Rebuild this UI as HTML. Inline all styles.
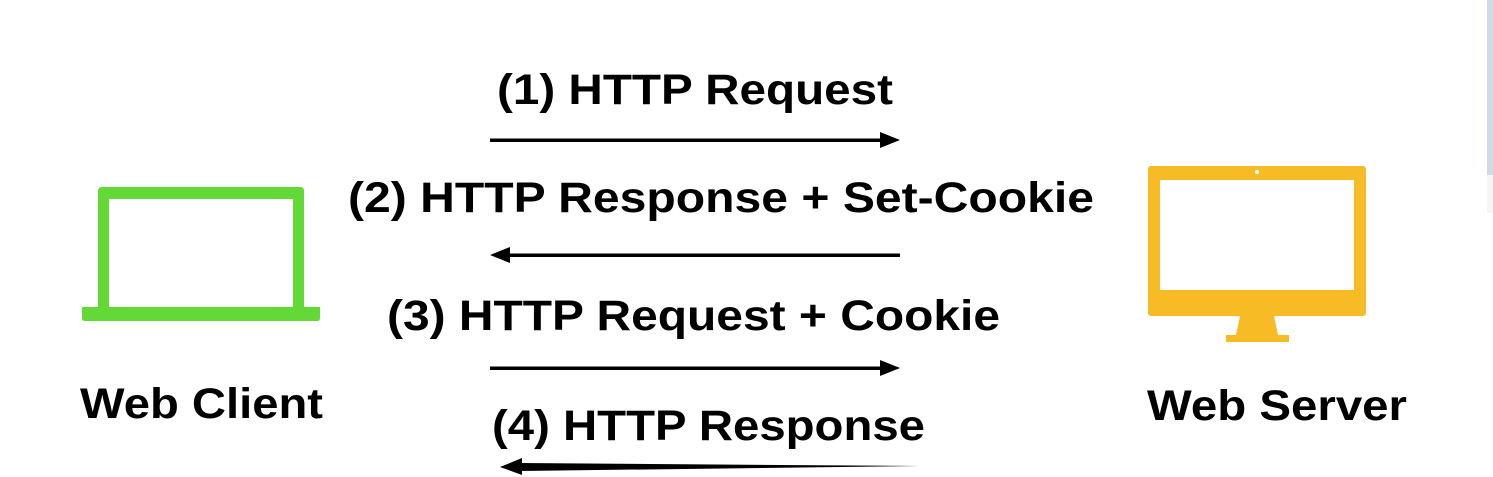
<!DOCTYPE html>
<html><head><meta charset="utf-8"><style>
html,body{margin:0;padding:0;background:#fff;}
svg{display:block;}
text{font-family:"Liberation Sans",Arial,sans-serif;font-weight:bold;fill:#000;}
</style></head><body>
<svg width="1493" height="477" viewBox="0 0 1493 477" xmlns="http://www.w3.org/2000/svg">
<rect x="1487" y="0" width="6" height="175" fill="#d0dbe8"/>
<rect x="1487" y="175" width="6" height="38" fill="#f6f6f7"/>
<!-- laptop -->
<path d="M102 187 H300 Q304 187 304 191 V307 H293 V199 H109 V307 H98 V191 Q98 187 102 187 Z" fill="#62d937"/>
<path d="M82 307 H320 V318 Q320 321 317 321 H85 Q82 321 82 318 Z" fill="#62d937"/>
<!-- monitor -->
<rect x="1148" y="166" width="218" height="150" rx="3" fill="#f7bc25"/>
<rect x="1160" y="180" width="194" height="110" fill="#fff"/>
<circle cx="1257" cy="172" r="2" fill="#fff"/>
<path d="M1240 316 H1274 L1278 335 H1236 Z" fill="#f7bc25"/>
<rect x="1226" y="335" width="63" height="7" fill="#f7bc25"/>
<!-- texts -->
<text x="497" y="104" font-size="43" textLength="396" lengthAdjust="spacingAndGlyphs">(1) HTTP Request</text>
<text x="348" y="212" font-size="43" textLength="746" lengthAdjust="spacingAndGlyphs">(2) HTTP Response + Set-Cookie</text>
<text x="387" y="330" font-size="43" textLength="613" lengthAdjust="spacingAndGlyphs">(3) HTTP Request + Cookie</text>
<text x="492" y="440" font-size="43" textLength="433" lengthAdjust="spacingAndGlyphs">(4) HTTP Response</text>
<text x="80" y="418" font-size="43" textLength="243" lengthAdjust="spacingAndGlyphs">Web Client</text>
<text x="1147" y="420" font-size="43" textLength="260" lengthAdjust="spacingAndGlyphs">Web Server</text>
<!-- arrows -->
<rect x="490" y="138.5" width="392" height="3.5" fill="#000"/>
<path d="M880 132 L900 140 L880 148 Z" fill="#000"/>
<rect x="508" y="253.5" width="392" height="3.5" fill="#000"/>
<path d="M510 247 L490 255 L510 263 Z" fill="#000"/>
<rect x="490" y="366.5" width="392" height="3.5" fill="#000"/>
<path d="M880 360 L900 368 L880 376 Z" fill="#000"/>
<path d="M920 466 L520 463 L520 471 Z" fill="#000"/>
<path d="M522 458 L500 467 L522 475 Z" fill="#000"/>
</svg>
</body></html>
